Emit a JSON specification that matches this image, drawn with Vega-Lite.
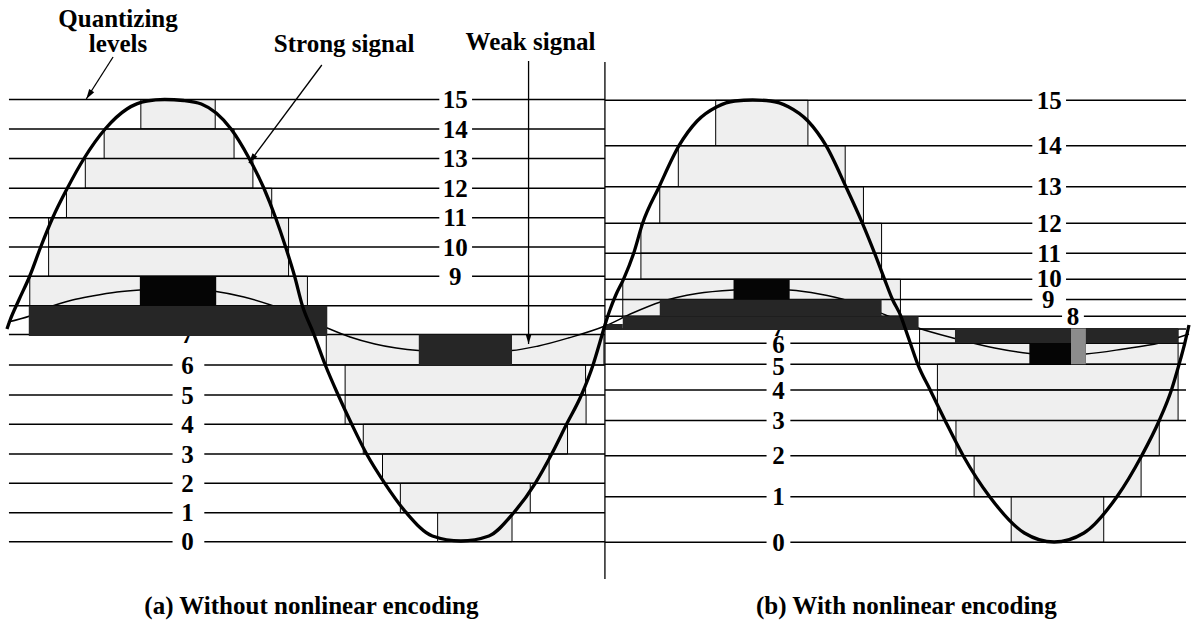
{
"$schema": "https://vega.github.io/schema/vega-lite/v6.json",
"width": 1196, "height": 631,
"autosize": {"type": "fit", "contains": "padding"},
"padding": 0,
"background": "white",
"config": {"view": {"stroke": null}},
"datasets": {
"steps": [
{"x":139,"x2":214,"y":99.5,"y2":129},
{"x":102,"x2":233,"y":129,"y2":158.5},
{"x":83,"x2":252,"y":158.5,"y2":188.2},
{"x":64,"x2":271,"y":188.2,"y2":217.7},
{"x":46,"x2":288,"y":217.7,"y2":247},
{"x":46,"x2":288,"y":247,"y2":276.3},
{"x":27,"x2":307,"y":276.3,"y2":305.8},
{"x":326,"x2":606,"y":334.5,"y2":365},
{"x":345,"x2":587.5,"y":365,"y2":395},
{"x":345,"x2":588,"y":395,"y2":424.3},
{"x":363.3,"x2":569.3,"y":424.3,"y2":454},
{"x":382.7,"x2":550.7,"y":454,"y2":483.3},
{"x":400.7,"x2":531.7,"y":483.3,"y2":512.7},
{"x":438.3,"x2":513.3,"y":512.7,"y2":541.7},
{"x":718.7,"x2":811.7,"y":100.3,"y2":145.7},
{"x":681,"x2":849.3,"y":145.7,"y2":186.7},
{"x":662.3,"x2":867.7,"y":186.7,"y2":223.3},
{"x":643.3,"x2":886,"y":223.3,"y2":253.3},
{"x":643.3,"x2":886,"y":253.3,"y2":279.3},
{"x":625,"x2":905,"y":279.3,"y2":299.5},
{"x":625,"x2":905,"y":299.5,"y2":316.3},
{"x":924.3,"x2":1185,"y":329,"y2":343.3},
{"x":924.3,"x2":1185,"y":343.3,"y2":364.3},
{"x":942.3,"x2":1185,"y":364.3,"y2":390},
{"x":942.3,"x2":1185,"y":390,"y2":420.5},
{"x":961,"x2":1166,"y":420.5,"y2":455.7},
{"x":979.3,"x2":1147.7,"y":455.7,"y2":496.7},
{"x":1016.7,"x2":1110,"y":496.7,"y2":542.3}
],
"levels": [
{"y":99.5,"x":6,"x2":440},{"y":99.5,"x":473,"x2":607},
{"y":129,"x":6,"x2":440},{"y":129,"x":473,"x2":607},
{"y":158.5,"x":6,"x2":440},{"y":158.5,"x":473,"x2":607},
{"y":188.2,"x":6,"x2":440},{"y":188.2,"x":473,"x2":607},
{"y":217.7,"x":6,"x2":440},{"y":217.7,"x":473,"x2":607},
{"y":247,"x":6,"x2":440},{"y":247,"x":473,"x2":607},
{"y":276.3,"x":6,"x2":440},{"y":276.3,"x":473,"x2":607},
{"y":305.8,"x":6,"x2":607},
{"y":334.5,"x":6,"x2":607},
{"y":365,"x":6,"x2":171},{"y":365,"x":203,"x2":607},
{"y":395,"x":6,"x2":171},{"y":395,"x":203,"x2":607},
{"y":424.3,"x":6,"x2":171},{"y":424.3,"x":203,"x2":607},
{"y":454,"x":6,"x2":171},{"y":454,"x":203,"x2":607},
{"y":483.3,"x":6,"x2":171},{"y":483.3,"x":203,"x2":607},
{"y":512.7,"x":6,"x2":171},{"y":512.7,"x":203,"x2":607},
{"y":541.7,"x":6,"x2":171},{"y":541.7,"x":203,"x2":607},
{"y":100.3,"x":607,"x2":1038},{"y":100.3,"x":1072,"x2":1193},
{"y":145.7,"x":607,"x2":1038},{"y":145.7,"x":1072,"x2":1193},
{"y":186.7,"x":607,"x2":1038},{"y":186.7,"x":1072,"x2":1193},
{"y":223.3,"x":607,"x2":1038},{"y":223.3,"x":1072,"x2":1193},
{"y":253.3,"x":607,"x2":1038},{"y":253.3,"x":1072,"x2":1193},
{"y":279.3,"x":607,"x2":1038},{"y":279.3,"x":1072,"x2":1193},
{"y":299.5,"x":607,"x2":1038},{"y":299.5,"x":1072,"x2":1193},
{"y":316.3,"x":607,"x2":1068},{"y":316.3,"x":1090,"x2":1193},
{"y":329,"x":607,"x2":1193},
{"y":343.3,"x":607,"x2":770},{"y":343.3,"x":794,"x2":1193},
{"y":364.3,"x":607,"x2":770},{"y":364.3,"x":794,"x2":1193},
{"y":390,"x":607,"x2":770},{"y":390,"x":794,"x2":1193},
{"y":420.5,"x":607,"x2":770},{"y":420.5,"x":794,"x2":1193},
{"y":455.7,"x":607,"x2":770},{"y":455.7,"x":794,"x2":1193},
{"y":496.7,"x":607,"x2":770},{"y":496.7,"x":794,"x2":1193},
{"y":542.3,"x":607,"x2":770},{"y":542.3,"x":794,"x2":1193}
],
"labels": [
{"t":"15","x":456,"y":99.5},{"t":"14","x":456,"y":129},{"t":"13","x":456,"y":158.5},{"t":"12","x":456,"y":188.2},{"t":"11","x":456,"y":217.7},{"t":"10","x":456,"y":247},{"t":"9","x":456,"y":276.3},
{"t":"8","x":186,"y":305.8},{"t":"7","x":186,"y":334.5},{"t":"6","x":186,"y":365},{"t":"5","x":186,"y":395},{"t":"4","x":186,"y":424.3},{"t":"3","x":186,"y":454},{"t":"2","x":186,"y":483.3},{"t":"1","x":186,"y":512.7},{"t":"0","x":186,"y":541.7},
{"t":"15","x":1055,"y":100.3},{"t":"14","x":1055,"y":145.7},{"t":"13","x":1055,"y":186.7},{"t":"12","x":1055,"y":223.3},{"t":"11","x":1055,"y":253.3},{"t":"10","x":1055,"y":278.5},{"t":"9","x":1054,"y":299.5},{"t":"8","x":1079,"y":316.3},
{"t":"7","x":782,"y":327},{"t":"6","x":782,"y":344.5},{"t":"5","x":782,"y":366},{"t":"4","x":782,"y":390},{"t":"3","x":782,"y":420.5},{"t":"2","x":782,"y":455.7},{"t":"1","x":782,"y":496.7},{"t":"0","x":782,"y":542.3}
],
"weak": [
{"x":5,"y":322},{"x":27,"y":316},{"x":47,"y":307},{"x":70,"y":300},{"x":90,"y":296},{"x":115,"y":292},{"x":138,"y":290},{"x":165,"y":289},{"x":190,"y":289.5},{"x":215,"y":291.5},{"x":243,"y":297},{"x":270,"y":305},{"x":300,"y":316},{"x":327,"y":328},{"x":350,"y":337},{"x":375,"y":344},{"x":419,"y":350.5},{"x":462,"y":352},{"x":513,"y":350.5},{"x":540,"y":346},{"x":570,"y":338},{"x":607,"y":326},{"x":635,"y":313},{"x":663,"y":302},{"x":700,"y":293.5},{"x":737,"y":290},{"x":765,"y":289},{"x":793,"y":290},{"x":823,"y":294},{"x":853,"y":301},{"x":890,"y":315},{"x":923,"y":328},{"x":960,"y":338.5},{"x":1000,"y":348},{"x":1035,"y":353.5},{"x":1063,"y":355},{"x":1092,"y":354},{"x":1130,"y":349},{"x":1166,"y":343},{"x":1196,"y":334}
],
"strong": [
{"x":4,"y":329},{"x":7,"y":320.5},{"x":16,"y":300},{"x":27,"y":276},{"x":38,"y":247},{"x":50,"y":218},{"x":65,"y":188},{"x":82,"y":158},{"x":103,"y":129},{"x":125,"y":109},{"x":145,"y":101},{"x":163,"y":99.5},{"x":182,"y":100.5},{"x":200,"y":104},{"x":215,"y":113},{"x":230,"y":129},{"x":248,"y":158},{"x":263,"y":188},{"x":275,"y":218},{"x":285,"y":247},{"x":294,"y":276},{"x":302,"y":306},{"x":313,"y":333},{"x":325,"y":365},{"x":338,"y":395},{"x":351.7,"y":424.3},{"x":366.7,"y":454},{"x":385,"y":483.3},{"x":406.7,"y":512.7},{"x":433,"y":536},{"x":461.7,"y":541},{"x":490,"y":536},{"x":515,"y":512.7},{"x":536.7,"y":483.3},{"x":553.3,"y":454},{"x":568.3,"y":424.3},{"x":583.3,"y":395},{"x":595,"y":365},{"x":602,"y":342},{"x":607,"y":325},{"x":612,"y":310},{"x":618,"y":295},{"x":625.7,"y":279.3},{"x":636,"y":253.3},{"x":645,"y":223.3},{"x":661.7,"y":186.7},{"x":681.7,"y":145.7},{"x":700,"y":121},{"x":720,"y":106.7},{"x":738,"y":101},{"x":756,"y":100},{"x":774,"y":101},{"x":792,"y":106.7},{"x":811.7,"y":121},{"x":830,"y":145.7},{"x":850,"y":186.7},{"x":866.7,"y":223.3},{"x":879,"y":253.3},{"x":889,"y":279.3},{"x":897,"y":299.5},{"x":905.5,"y":316.3},{"x":910,"y":329},{"x":915,"y":343.3},{"x":922.5,"y":364.3},{"x":935,"y":390},{"x":950,"y":420.5},{"x":968.3,"y":455.7},{"x":995,"y":496.7},{"x":1030,"y":533},{"x":1060,"y":542},{"x":1090,"y":533},{"x":1123.3,"y":496.7},{"x":1148.3,"y":455.7},{"x":1166,"y":420.5},{"x":1178.3,"y":390},{"x":1186,"y":364.3},{"x":1191.7,"y":343.3},{"x":1196,"y":325}
],
"blocks": [
{"x":26,"x2":327,"y":305.8,"y2":336,"kind":"stipple"},
{"x":138,"x2":215,"y":276.3,"y2":305.8,"kind":"solid"},
{"x":419.3,"x2":513.3,"y":334.5,"y2":365,"kind":"stipple"},
{"x":662.3,"x2":886,"y":299.5,"y2":316.3,"kind":"stipple"},
{"x":625,"x2":923.3,"y":316.3,"y2":330,"kind":"stipple"},
{"x":607,"x2":625,"y":324,"y2":330,"kind":"stipple"},
{"x":736.7,"x2":793.3,"y":279.3,"y2":299.5,"kind":"solid"},
{"x":960,"x2":1185,"y":328.5,"y2":343.3,"kind":"stipple"},
{"x":1035,"x2":1092,"y":343.3,"y2":364.3,"kind":"solid"},
{"x":1077,"x2":1092,"y":328.5,"y2":364.3,"kind":"gray"}
],
"pointers": [
{"x":111,"y":57,"x2":84,"y2":99},
{"x":321.5,"y":65,"x2":248,"y2":163},
{"x":530,"y":61,"x2":530,"y2":344},
{"x":607,"y":62,"x2":607,"y2":579}
],
"heads": [
{"x":84,"y":99,"dir":212.7},
{"x":248,"y":163,"dir":216.9},
{"x":530,"y":344,"dir":180}
],
"titles": [
{"t":"Quantizing","x":116,"y":27},
{"t":"levels","x":116,"y":52},
{"t":"Strong signal","x":344,"y":52},
{"t":"Weak signal","x":532,"y":50},
{"t":"(a) Without nonlinear encoding","x":311,"y":614},
{"t":"(b) With nonlinear encoding","x":911,"y":614}
]
},
"layer": [
{"data":{"name":"steps"},
 "mark":{"type":"rect","fill":"#efefef","stroke":"#000","strokeWidth":1},
 "encoding":{
  "x":{"field":"x","type":"quantitative","scale":{"domain":[0,1196],"nice":false,"zero":false},"axis":null},
  "x2":{"field":"x2"},
  "y":{"field":"y","type":"quantitative","scale":{"domain":[0,631],"reverse":true,"nice":false,"zero":false},"axis":null},
  "y2":{"field":"y2"}}},
{"data":{"name":"levels"},
 "mark":{"type":"rule","color":"#000","strokeWidth":1.4},
 "encoding":{
  "x":{"field":"x","type":"quantitative","scale":{"domain":[0,1196],"nice":false,"zero":false},"axis":null},
  "x2":{"field":"x2"},
  "y":{"field":"y","type":"quantitative","scale":{"domain":[0,631],"reverse":true,"nice":false,"zero":false},"axis":null}}},
{"data":{"name":"labels"},
 "mark":{"type":"text","font":"Liberation Serif","fontWeight":"bold","fontSize":25,"align":"center","baseline":"alphabetic","dy":8.5,"color":"#000"},
 "encoding":{
  "x":{"field":"x","type":"quantitative","scale":{"domain":[0,1196],"nice":false,"zero":false},"axis":null},
  "y":{"field":"y","type":"quantitative","scale":{"domain":[0,631],"reverse":true,"nice":false,"zero":false},"axis":null},
  "text":{"field":"t"}}},
{"data":{"name":"weak"},
 "mark":{"type":"line","color":"#000","strokeWidth":1.4,"interpolate":"monotone"},
 "encoding":{
  "x":{"field":"x","type":"quantitative","scale":{"domain":[0,1196],"nice":false,"zero":false},"axis":null},
  "y":{"field":"y","type":"quantitative","scale":{"domain":[0,631],"reverse":true,"nice":false,"zero":false},"axis":null}}},
{"data":{"name":"blocks"},
 "mark":{"type":"rect"},
 "encoding":{
  "x":{"field":"x","type":"quantitative","scale":{"domain":[0,1196],"nice":false,"zero":false},"axis":null},
  "x2":{"field":"x2"},
  "y":{"field":"y","type":"quantitative","scale":{"domain":[0,631],"reverse":true,"nice":false,"zero":false},"axis":null},
  "y2":{"field":"y2"},
  "color":{"field":"kind","type":"nominal","scale":{"domain":["stipple","solid","gray"],"range":["#262626","#050505","#8c8c8c"]},"legend":null}}},
{"data":{"name":"strong"},
 "mark":{"type":"line","color":"#000","strokeWidth":3.3,"interpolate":"monotone"},
 "encoding":{
  "x":{"field":"x","type":"quantitative","scale":{"domain":[0,1196],"nice":false,"zero":false},"axis":null},
  "y":{"field":"y","type":"quantitative","scale":{"domain":[0,631],"reverse":true,"nice":false,"zero":false},"axis":null}}},
{"data":{"name":"pointers"},
 "mark":{"type":"rule","color":"#000","strokeWidth":1.3},
 "encoding":{
  "x":{"field":"x","type":"quantitative","scale":{"domain":[0,1196],"nice":false,"zero":false},"axis":null},
  "x2":{"field":"x2"},
  "y":{"field":"y","type":"quantitative","scale":{"domain":[0,631],"reverse":true,"nice":false,"zero":false},"axis":null},
  "y2":{"field":"y2"}}},
{"data":{"name":"heads"},
 "mark":{"type":"point","shape":"M0,0L-0.3,1L0.3,1Z","filled":true,"size":400,"color":"#000","opacity":1},
 "encoding":{
  "x":{"field":"x","type":"quantitative","scale":{"domain":[0,1196],"nice":false,"zero":false},"axis":null},
  "y":{"field":"y","type":"quantitative","scale":{"domain":[0,631],"reverse":true,"nice":false,"zero":false},"axis":null},
  "angle":{"field":"dir","type":"quantitative","scale":null}}},
{"data":{"name":"titles"},
 "mark":{"type":"text","font":"Liberation Serif","fontWeight":"bold","fontSize":25,"align":"center","baseline":"alphabetic","color":"#000"},
 "encoding":{
  "x":{"field":"x","type":"quantitative","scale":{"domain":[0,1196],"nice":false,"zero":false},"axis":null},
  "y":{"field":"y","type":"quantitative","scale":{"domain":[0,631],"reverse":true,"nice":false,"zero":false},"axis":null},
  "text":{"field":"t"}}}
]
}
